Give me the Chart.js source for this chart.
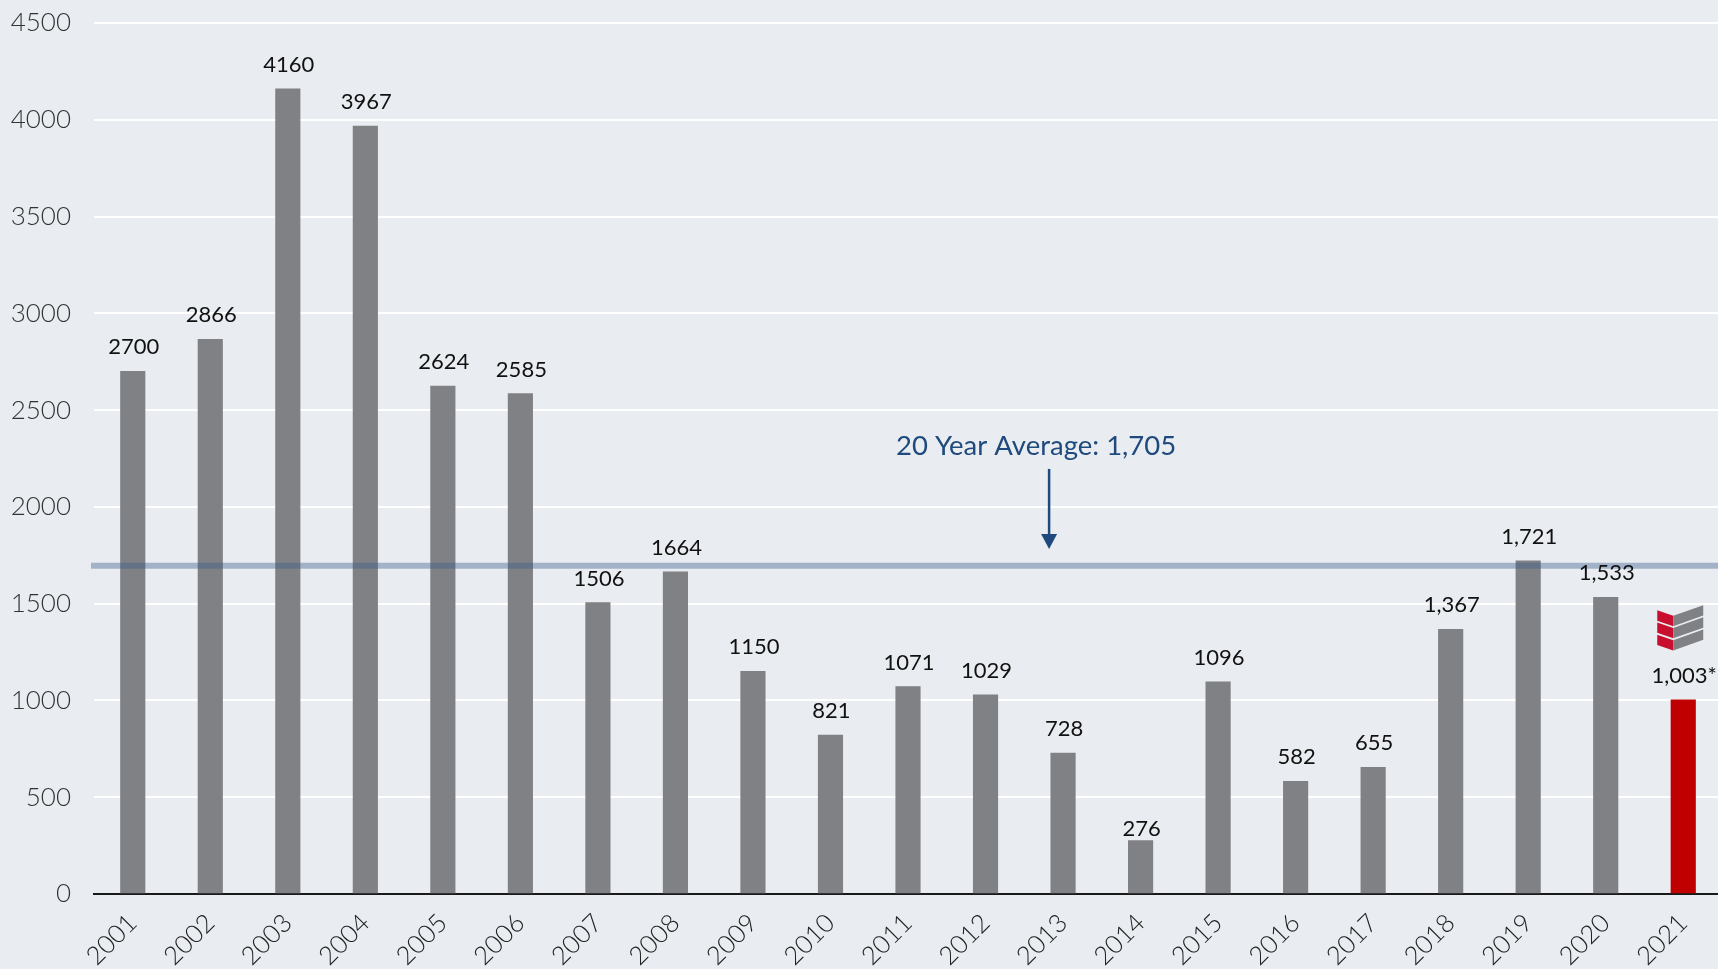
<!DOCTYPE html>
<html lang="en">
<head>
    <title>Annual totals 2001-2021</title>
    <meta http-equiv="Content-Type" content="text/html; charset=utf-8" />
    <script src="https://cdn.jsdelivr.net/npm/chart.js@4"></script>
    <style>
        html, body { margin: 0; padding: 0; width: 1718px; height: 969px; overflow: hidden; background: #e9ecf0; }
        canvas { display: block; }
    </style>
    <script type="text/javascript">
        const years = ['2001', '2002', '2003', '2004', '2005', '2006', '2007', '2008', '2009', '2010', '2011',
            '2012', '2013', '2014', '2015', '2016', '2017', '2018', '2019', '2020', '2021'];
        const values = [2700, 2866, 4160, 3967, 2624, 2585, 1506, 1664, 1150, 821, 1071,
            1029, 728, 276, 1096, 582, 655, 1367, 1721, 1533, 1003];
        const valueLabels = ['2700', '2866', '4160', '3967', '2624', '2585', '1506', '1664', '1150', '821', '1071',
            '1029', '728', '276', '1096', '582', '655', '1,367', '1,721', '1,533', '1,003*'];
        const yTicks = [0, 500, 1000, 1500, 2000, 2500, 3000, 3500, 4000, 4500];
        const averageLabel = '20 Year Average: 1,705';
        // the band sits a little under the printed figure in the picture
        const averageLine = 1696;
        const arrowTop = 2196;
        const arrowTip = 1782;
        const arrowCategory = 11.82;

        const GREY = '#808184';
        const RED = '#c00000';
        const NAVY = '#1f4a7d';
        const FONT = 'Lato, sans-serif';

        // average band, arrow and its caption
        const averagePlugin = {
            id: 'average',
            afterDatasetsDraw(chart) {
                const { ctx, scales: { x, y } } = chart;
                const bandY = y.getPixelForValue(averageLine);
                const arrowX = x.getPixelForValue(arrowCategory);
                const tipY = y.getPixelForValue(arrowTip);
                ctx.save();
                ctx.fillStyle = 'rgba(55, 93, 140, 0.4)';
                ctx.fillRect(91, bandY - 3, chart.width - 91, 6);

                ctx.strokeStyle = NAVY;
                ctx.lineWidth = 2.5;
                ctx.beginPath();
                ctx.moveTo(arrowX, y.getPixelForValue(arrowTop));
                ctx.lineTo(arrowX, tipY - 10);
                ctx.stroke();
                ctx.fillStyle = NAVY;
                ctx.beginPath();
                ctx.moveTo(arrowX - 8, tipY - 15);
                ctx.lineTo(arrowX + 8, tipY - 15);
                ctx.lineTo(arrowX, tipY);
                ctx.closePath();
                ctx.fill();

                ctx.font = '27.5px ' + FONT;
                ctx.textAlign = 'center';
                ctx.textBaseline = 'alphabetic';
                ctx.fillText(averageLabel, arrowX - 13, y.top + 432);
                ctx.restore();
            }
        };

        // value above every bar
        const barLabelPlugin = {
            id: 'barLabels',
            afterDatasetsDraw(chart) {
                const { ctx } = chart;
                const bars = chart.getDatasetMeta(0).data;
                ctx.save();
                ctx.font = '22px ' + FONT;
                ctx.fillStyle = '#111111';
                ctx.textAlign = 'center';
                ctx.textBaseline = 'alphabetic';
                bars.forEach(function (bar, i) {
                    // the 2014 label sits closer to its bar in the picture
                    const gap = valueLabels[i] === '276' ? 5 : 17;
                    ctx.fillText(valueLabels[i], bar.x + 1, bar.y - gap);
                });
                ctx.restore();
            }
        };

        // small stacked logo over the last bar
        const logoPlugin = {
            id: 'logo',
            afterDatasetsDraw(chart) {
                const { ctx } = chart;
                const bars = chart.getDatasetMeta(0).data;
                const last = bars[bars.length - 1];
                const cx = last.x - 10;
                const cy = last.y - 84;
                ctx.save();
                for (let i = 0; i < 3; i++) {
                    const top = cy + i * 12.2;
                    ctx.fillStyle = '#c8102e';
                    ctx.beginPath();
                    ctx.moveTo(cx - 16, top - 5.5);
                    ctx.lineTo(cx, top);
                    ctx.lineTo(cx, top + 10.3);
                    ctx.lineTo(cx - 16, top + 4.8);
                    ctx.closePath();
                    ctx.fill();
                    ctx.fillStyle = GREY;
                    ctx.beginPath();
                    ctx.moveTo(cx, top);
                    ctx.lineTo(cx + 30, top - 10.7);
                    ctx.lineTo(cx + 30, top - 0.4);
                    ctx.lineTo(cx, top + 10.3);
                    ctx.closePath();
                    ctx.fill();
                }
                ctx.restore();
            }
        };

        function onInit() {
            const ctx = document.getElementById('chartCanvas').getContext('2d');
            new Chart(ctx, {
                type: 'bar',
                data: {
                    labels: years,
                    datasets: [{
                        data: values,
                        backgroundColor: values.map(function (v, i) {
                            return i === values.length - 1 ? RED : GREY;
                        }),
                        barThickness: 24.5
                    }]
                },
                options: {
                    responsive: false,
                    animation: false,
                    layout: { padding: { top: 23, left: 0, right: 0, bottom: 0 } },
                    plugins: { legend: { display: false }, tooltip: { enabled: false } },
                    scales: {
                        x: {
                            afterFit(scale) {
                                scale.height = 75;
                                scale.paddingLeft = 0;
                                scale.paddingRight = 0;
                            },
                            grid: { display: false },
                            border: { display: true, color: '#1a1a1a', width: 2 },
                            ticks: {
                                minRotation: 45,
                                maxRotation: 45,
                                autoSkip: false,
                                padding: 6,
                                color: '#222222',
                                font: { family: 'Lato', size: 25.5, weight: '300' }
                            }
                        },
                        y: {
                            min: 0,
                            max: 4500,
                            afterFit(scale) {
                                scale.width = 94;
                                scale.paddingTop = 0;
                                scale.paddingBottom = 0;
                            },
                            afterBuildTicks(scale) {
                                scale.ticks = yTicks.map(function (v) { return { value: v }; });
                            },
                            grid: { color: '#ffffff', lineWidth: 2, drawTicks: false },
                            border: { display: false },
                            ticks: {
                                padding: 23,
                                color: '#333333',
                                font: { family: 'Lato', size: 26, weight: '300' },
                                callback: function (v) { return String(v); }
                            }
                        }
                    }
                },
                plugins: [averagePlugin, barLabelPlugin, logoPlugin]
            });
        }

        window.onload = onInit;
    </script>
</head>
<body>
    <canvas id="chartCanvas" width="1722" height="969"></canvas>
</body>
</html>
